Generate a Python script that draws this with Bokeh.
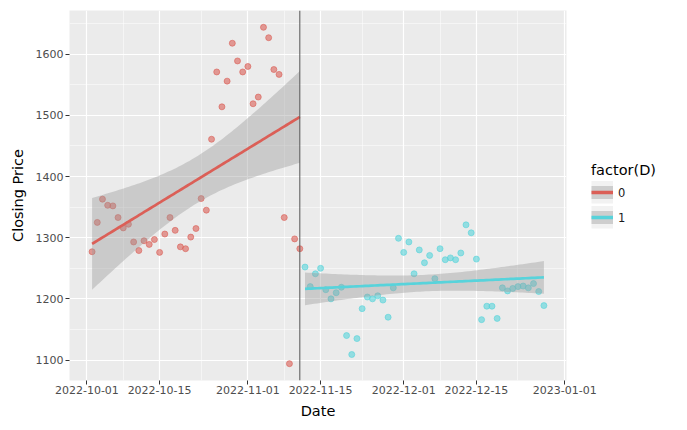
import numpy as np
import pandas as pd
from bokeh.plotting import figure
from bokeh.models import (Range1d, FixedTicker, DatetimeTickFormatter, Span,
                          Legend, LegendItem, ColumnDataSource)
from bokeh.embed import file_html
from bokeh.resources import INLINE

# ---------------- data ----------------
start_d0 = "2022-10-02"   # first day of group D = 0 (daily observations)
close_d0 = [1277, 1325, 1363, 1353, 1352, 1333, 1316, 1322, 1293, 1279,
            1295, 1289, 1297, 1276, 1306, 1333, 1312, 1285, 1282, 1301,
            1315, 1364, 1345, 1461, 1571, 1514, 1556, 1618, 1589, 1571,
            1580, 1519, 1530, 1644, 1627, 1575, 1567, 1333, 1094, 1298,
            1282]
start_d1 = "2022-11-12"   # first day of group D = 1
close_d1 = [1252, 1220, 1241, 1250, 1215, 1200, 1210, 1219, 1140, 1109,
            1135, 1184, 1203, 1200, 1205, 1198, 1170, 1218, 1299, 1276,
            1293, 1241, 1280, 1259, 1271, 1233, 1282, 1264, 1267, 1264,
            1275, 1321, 1308, 1265, 1166, 1188, 1188, 1168, 1218, 1213,
            1217, 1220, 1221, 1218, 1225, 1212, 1189]
cutoff_date = "2022-11-11"
group_labels = ["0", "1"]
x_tick_dates = ["2022-10-01", "2022-10-15", "2022-11-01", "2022-11-15",
                "2022-12-01", "2022-12-15", "2023-01-01"]
x_minor_dates = ["2022-10-08", "2022-10-23", "2022-11-08", "2022-11-23",
                 "2022-12-08", "2022-12-23"]
y_ticks = [1100, 1200, 1300, 1400, 1500, 1600]
y_minor = [1150, 1250, 1350, 1450, 1550, 1650]

# ---------------- helpers ----------------
DAY = 86400000.0
def ms(d):
    return pd.Timestamp(d).value / 1e6

dates0 = pd.date_range(start_d0, periods=len(close_d0), freq="D")
dates1 = pd.date_range(start_d1, periods=len(close_d1), freq="D")
x0 = np.array([ms(d) for d in dates0])
x1 = np.array([ms(d) for d in dates1])

def lm_band(xms, y, tval, n_grid=80):
    xd = np.asarray(xms, float) / DAY
    y = np.asarray(y, float)
    n = len(y)
    xm = xd.mean()
    sxx = ((xd - xm) ** 2).sum()
    b = ((xd - xm) * (y - y.mean())).sum() / sxx
    a = y.mean() - b * xm
    s = np.sqrt(((y - (a + b * xd)) ** 2).sum() / (n - 2))
    g = np.linspace(xd.min(), xd.max(), n_grid)
    f = a + b * g
    se = s * np.sqrt(1.0 / n + (g - xm) ** 2 / sxx)
    return g * DAY, f, f - tval * se, f + tval * se

COL = ["#db5f57", "#57d3db"]
FONT = "DejaVu Sans"

xmin, xmax = min(x0.min(), x1.min()), max(x0.max(), x1.max())
xpad = 0.05 * (xmax - xmin)
allv = close_d0 + close_d1
ymin, ymax = min(allv), max(allv)
ypad = 0.05 * (ymax - ymin)

p = figure(frame_width=497, frame_height=370, x_axis_type="datetime",
           x_range=Range1d(xmin - xpad, xmax + xpad),
           y_range=Range1d(ymin - ypad, ymax + ypad),
           output_backend="svg", toolbar_location=None,
           min_border_left=69, min_border_right=121,
           min_border_top=10, min_border_bottom=50)
p.background_fill_color = "#ebebeb"
p.border_fill_color = "white"
p.outline_line_color = None

# ticks / grids
xt = FixedTicker(ticks=[ms(d) for d in x_tick_dates],
                 minor_ticks=[ms(d) for d in x_minor_dates])
yt = FixedTicker(ticks=y_ticks, minor_ticks=y_minor)
p.xaxis.ticker = xt
p.xgrid.ticker = xt
p.yaxis.ticker = yt
p.ygrid.ticker = yt
fmt = "%Y-%m-%d"
p.xaxis.formatter = DatetimeTickFormatter(days=fmt, months=fmt, years=fmt,
                                          hours=fmt, minutes=fmt)
for g in (p.xgrid, p.ygrid):
    g.grid_line_color = "white"
    g.grid_line_width = 1.2
    g.minor_grid_line_color = "white"
    g.minor_grid_line_width = 0.5

for ax in (p.xaxis, p.yaxis):
    ax.axis_line_color = None
    ax.major_tick_line_color = "#333333"
    ax.major_tick_in = 0
    ax.major_tick_out = 4
    ax.minor_tick_line_color = None
    ax.major_label_text_font = FONT
    ax.major_label_text_font_size = "11px"
    ax.major_label_text_color = "#4d4d4d"
    ax.axis_label_text_font = FONT
    ax.axis_label_text_font_size = "14.5px"
    ax.axis_label_text_font_style = "normal"
    ax.axis_label_text_color = "black"
p.xaxis.axis_label = "Date"
p.yaxis.axis_label = "Closing Price"
p.xaxis.major_label_standoff = 1
p.xaxis.axis_label_standoff = 6
p.yaxis.major_label_standoff = 2
p.yaxis.axis_label_standoff = 7

# points
for xs, ys, c in ((x0, close_d0, COL[0]), (x1, close_d1, COL[1])):
    p.scatter(xs, ys, size=6, fill_color=c, line_color=c,
              fill_alpha=0.6, line_alpha=0.6)

# smooth (lm with 95% CI)
tvals = [2.0227, 2.0141]
for xs, ys, c, tv in ((x0, close_d0, COL[0], tvals[0]),
                      (x1, close_d1, COL[1], tvals[1])):
    g, f, lo, hi = lm_band(xs, ys, tv)
    p.varea(x=g, y1=lo, y2=hi, fill_color="#999999", fill_alpha=0.4)
    p.line(g, f, line_color=c, line_width=2.7)

p.add_layout(Span(location=ms(cutoff_date), dimension="height",
                  line_color="#555555", line_width=1))

# legend (proxy renderers: one point each, so nothing is drawn in the plot)
one = dict(x=[xmin], y=[ymin])
items = []
for i, lab in enumerate(group_labels):
    bg = p.line("x", "y", source=ColumnDataSource(one),
                line_color="#f2f2f2", line_width=23)
    bd = p.line("x", "y", source=ColumnDataSource(one),
                line_color="#999999", line_alpha=0.4, line_width=13)
    ln = p.line("x", "y", source=ColumnDataSource(one),
                line_color=COL[i], line_width=3.5)
    items.append(LegendItem(label=lab, renderers=[bg, bd, ln]))

leg = Legend(items=items, title="factor(D)", location="center_left",
             title_text_font=FONT, title_text_font_size="14.5px",
             title_text_font_style="normal", title_text_color="black",
             label_text_font=FONT, label_text_font_size="11.5px",
             label_text_color="#1a1a1a",
             glyph_width=22, glyph_height=23, spacing=2, padding=0,
             margin=25, label_standoff=5, title_standoff=3,
             background_fill_alpha=0, border_line_color=None)
p.add_layout(leg, "right")

open("out.html", "w").write(file_html(p, INLINE))
